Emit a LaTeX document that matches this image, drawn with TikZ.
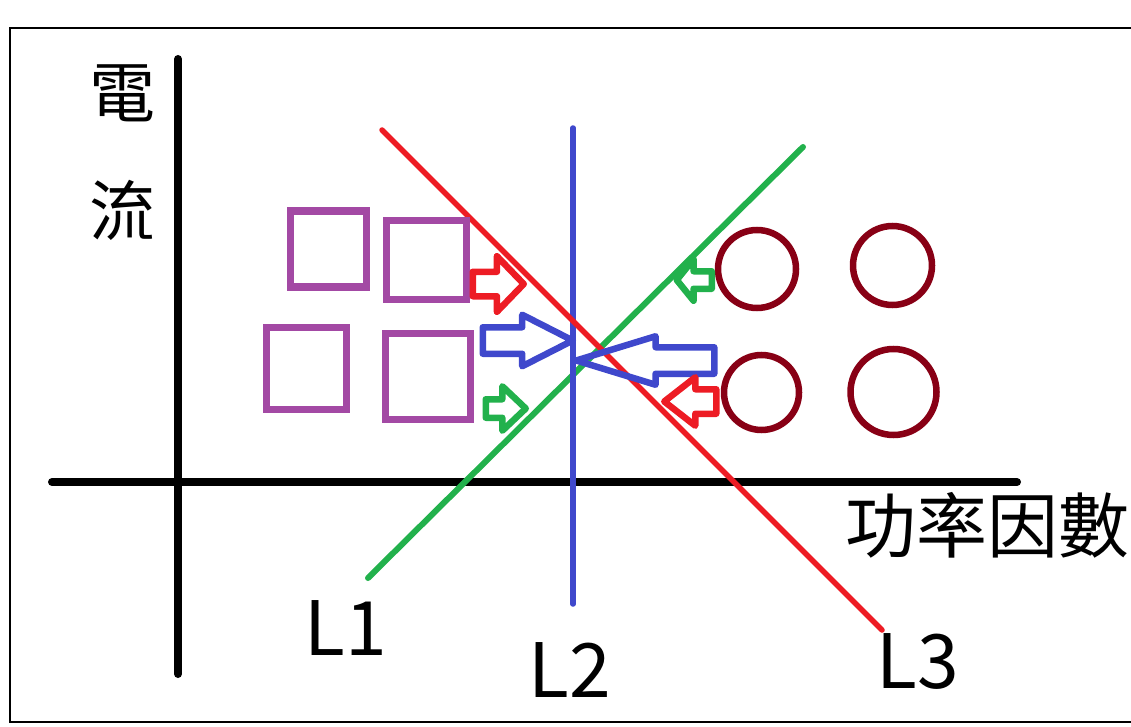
\documentclass[tikz,border=0pt]{standalone}
\usepackage{fontspec}
\newfontfamily\cjk{Noto Sans CJK TC}
\usepackage{tikz}
\usetikzlibrary{shapes.arrows}
\definecolor{pred}{HTML}{ED1C24}
\definecolor{pblue}{HTML}{3F48CC}
\definecolor{pgreen}{HTML}{22B14C}
\definecolor{ppurple}{HTML}{A349A4}
\definecolor{pdark}{HTML}{880015}
\tikzstyle{axis} = [line width=8, line cap=round]
\tikzstyle{fline} = [line width=5.5, line cap=round]
\tikzstyle{box} = [rectangle, 
draw=ppurple, 
line width=7.5, 
inner sep=0]
\tikzstyle{ring} = [circle, 
draw=pdark, 
line width=6.5, 
inner sep=0]
\tikzstyle{push} = [single arrow, 
draw, 
line width=6.5, 
line join=round, 
inner xsep=0, 
anchor=tail]
\tikzstyle{lbl} = [font=\cjk\fontsize{75}{75}\selectfont, inner sep=0]
\tikzstyle{axlbl} = [font=\cjk\fontsize{66}{66}\selectfont, inner sep=0]

\begin{document}
\begin{tikzpicture}[x=1pt, y=-1pt]
        \useasboundingbox (0,0) rectangle (1131,727);
        % frame
        \draw [line width=2.5] (1131,28) -- (10,28) -- (10,722) -- (1131,722);

        % axes
        \coordinate (ytop) at (178,59);
        \coordinate (ybot) at (178,674);
        \coordinate (xleft) at (52,482);
        \coordinate (xright) at (1017,482);
        \draw [axis] (ytop) -- (ybot);
        \draw [axis] (xleft) -- (xright);
        \node (cur1) [axlbl] at (122,93) {電};
        \node (cur2) [axlbl] at (122,210) {流};
        \node (pf) [axlbl, font=\cjk\fontsize{71}{71}\selectfont] at (987,525) {功率因數};

        % lines
        \coordinate (l1a) at (368,578);
        \coordinate (l1b) at (803,147);
        \coordinate (l2a) at (573,604);
        \coordinate (l2b) at (573,128);
        \coordinate (l3a) at (382,130);
        \coordinate (l3b) at (882,630);
        \draw [fline, pgreen, line width=6] (l1a) -- (l1b);
        \draw [fline, pblue] (l2a) -- (l2b);
        \draw [fline, pred] (l3a) -- (l3b);
        \node (lab1) [lbl] at (346,628) {L1};
        \node (lab2) [lbl] at (570,670) {L2};
        \node (lab3) [lbl] at (918,661) {L3};

        % squares
        \node (sq1) [box, minimum width=76, minimum height=76] at (328.5,249) {};
        \node (sq2) [box, minimum width=80, minimum height=79] at (426.5,260) {};
        \node (sq3) [box, minimum width=80, minimum height=82] at (306.5,368.5) {};
        \node (sq4) [box, minimum width=85, minimum height=86] at (428,376.5) {};

        % circles
        \node (c1) [ring, minimum size=78] at (757,269) {};
        \node (c2) [ring, minimum size=79] at (892.5,265.5) {};
        \node (c3) [ring, minimum size=75] at (761.5,392.5) {};
        \node (c4) [ring, minimum size=86] at (893.5,392) {};

        % arrows
        \node (ar1) [push, draw=pred, inner ysep=9, single arrow head extend=15.5,
          minimum width=49, minimum height=51, single arrow tip angle=92] at (469.5,284) {};
        \node (ar2) [push, draw=pblue, inner ysep=10, single arrow head extend=12.5,
          minimum width=45, minimum height=90, single arrow tip angle=54] at (479.5,340.5) {};
        \node (ar3) [push, draw=pblue, inner ysep=10, single arrow head extend=11,
          minimum width=42, minimum height=138, single arrow tip angle=34,
          shape border rotate=180] at (717.5,360.5) {};
        \node (ar4) [push, draw=pgreen, inner ysep=5.5, single arrow head extend=12,
          minimum width=35, minimum height=35, single arrow tip angle=102,
          shape border rotate=180] at (715,280) {};
        \node (ar5) [push, draw=pred, inner ysep=9, single arrow head extend=12,
          minimum width=42, minimum height=52, single arrow tip angle=76,
          shape border rotate=180] at (719.5,401.5) {};
        \node (ar6) [push, draw=pgreen, inner ysep=6, single arrow head extend=13,
          minimum width=38, minimum height=40, single arrow tip angle=87] at (482.5,408.5) {};
\end{tikzpicture}
\end{document}
